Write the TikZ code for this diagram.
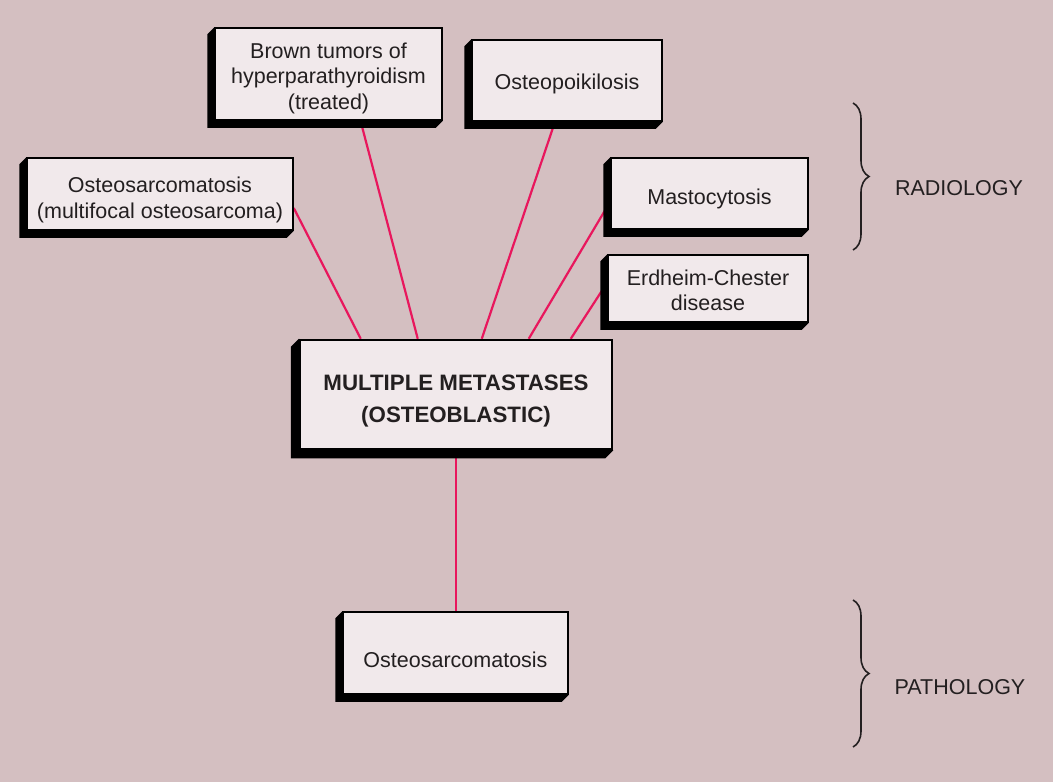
\documentclass[tikz,border=0pt]{standalone}
\usepackage{fontspec}
\setmainfont{Liberation Sans}
\usetikzlibrary{calc,decorations.pathreplacing,backgrounds}
\definecolor{bgpink}{HTML}{D4BFC1}
\definecolor{facecol}{HTML}{F1E9EB}
\definecolor{linkcol}{HTML}{E8175D}
\definecolor{ink}{HTML}{231F20}

\tikzset{
  box/.style={draw=black, line width=1.5pt, fill=facecol, inner sep=0pt},
  mainbox/.style={box, line width=2.5pt},
  boxtext/.style={align=center, inner sep=0pt, text=ink,
    font=\fontsize{21.5}{25.5}\selectfont},
  maintext/.style={boxtext, font=\bfseries\fontsize{22.3}{32}\selectfont},
  linkline/.style={draw=linkcol, line width=2.2pt},
  bracket/.style={decorate, decoration={brace, amplitude=16pt},
    line width=1.6pt, draw=ink},
  tag/.style={font=\fontsize{21.5}{25.5}\selectfont, inner sep=0pt, text=ink},
}

% black oblique extrusion towards the lower left of a box
\newcommand\slab[2][7]{%
  \fill[black] (#2.north west) -- ++(-#1,#1)
    -- ($(#2.south west)+(-#1,#1)$)
    -- ($(#2.south east)+(-#1,#1)$)
    -- (#2.south east) -- cycle;}

\begin{document}
\begin{tikzpicture}[x=1pt, y=-1pt]
\useasboundingbox (0,0) rectangle (1053,782);
\begin{pgfonlayer}{background}
  \fill[bgpink] (0,0) rectangle (1053,782);
\end{pgfonlayer}

% box faces
\node[box, minimum width=227pt, minimum height=92pt] (brown) at (328.5,74) {};
\node[box, minimum width=190pt, minimum height=81pt] (poik) at (567,80.5) {};
\node[box, minimum width=266pt, minimum height=72pt] (multi) at (160,194) {};
\node[box, minimum width=197pt, minimum height=71pt] (masto) at (709.5,193.5) {};
\node[box, minimum width=200pt, minimum height=67pt] (erd) at (708,288.5) {};
\node[mainbox, minimum width=312pt, minimum height=109pt] (main) at (456,394.5) {};
\node[box, minimum width=225pt, minimum height=82pt] (osteo) at (455.5,653) {};

% box texts
\node[boxtext] (brown-t) at ($(brown)+(0,4)$)
  {Brown tumors of\\hyperparathyroidism\\(treated)};
\node[boxtext] (poik-t) at ($(poik)+(0,3)$) {Osteopoikilosis};
\node[boxtext] (multi-t) at ($(multi)+(0,6)$)
  {Osteosarcomatosis\\(multifocal osteosarcoma)};
\node[boxtext] (masto-t) at ($(masto)+(0,5)$) {Mastocytosis};
\node[boxtext] (erd-t) at ($(erd)+(0,2)$) {Erdheim-Chester\\disease};
\node[maintext] (main-t) at ($(main)+(0,7)$)
  {MULTIPLE METASTASES\\(OSTEOBLASTIC)};
\node[boxtext] (osteo-t) at ($(osteo)+(0,7)$) {Osteosarcomatosis};

% braces and their labels
\draw[bracket] (853,103) coordinate (rtop) -- (853,250) coordinate (rbot);
\node[tag] (radio) at (959,188) {RADIOLOGY};
\draw[bracket] (853,600) coordinate (ptop) -- (853,747) coordinate (pbot);
\node[tag] (patho) at (960,687) {PATHOLOGY};

\begin{pgfonlayer}{background}
  % connectors
  \draw[linkline] ($(multi.east)+(0,14)$) -- ($(main.north west)+(62,0)$);
  \draw[linkline] ($(brown.south)+(32,0)$) -- ($(main.north west)+(119,0)$);
  \draw[linkline] ($(poik.south)+(-12,0)$) -- ($(main.north west)+(183,0)$);
  \draw[linkline] ($(masto.west)+(0,8)$) -- ($(main.north west)+(230,0)$);
  \draw[linkline] ($(erd.west)+(0,-6)$) -- ($(main.north west)+(272,0)$);
  \draw[linkline] (main.south) -- (main.south |- osteo.north);
  % extrusions
  \slab{brown}
  \slab{poik}
  \slab{multi}
  \slab{masto}
  \slab{erd}
  \slab[8]{main}
  \slab{osteo}
\end{pgfonlayer}
\end{tikzpicture}
\end{document}
